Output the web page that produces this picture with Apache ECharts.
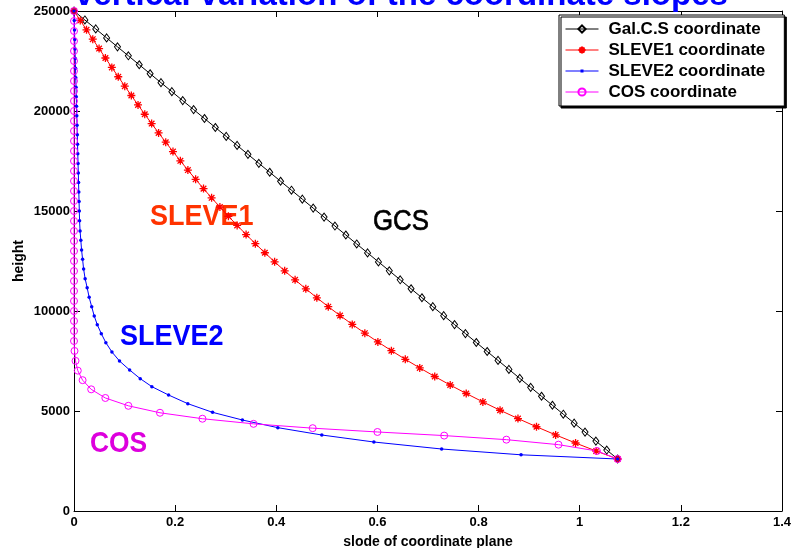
<!DOCTYPE html>
<html>
<head>
<meta charset="utf-8">
<script src="https://cdn.jsdelivr.net/npm/echarts/dist/echarts.min.js"></script>
<style>
  html, body { margin: 0; padding: 0; background: #fff; }
  #chart { width: 794px; height: 548px; }
</style>
</head>
<body>
<div id="chart"></div>
<script>
// slope of the coordinate surface over the peak vs. its height (bottom -> top)
const gcsSlope = [1.075, 1.0535, 1.032, 1.0105, 0.989, 0.9675, 0.946, 0.9245, 0.903, 0.8815, 0.86, 0.8385, 0.817, 0.7955, 0.774, 0.7525, 0.731, 0.7095, 0.688, 0.6665, 0.645, 0.6235, 0.602, 0.5805, 0.559, 0.5375, 0.516, 0.4945, 0.473, 0.4515, 0.43, 0.4085, 0.387, 0.3655, 0.344, 0.3225, 0.301, 0.2795, 0.258, 0.2365, 0.215, 0.1935, 0.172, 0.1505, 0.129, 0.1075, 0.086, 0.0645, 0.043, 0.0215, 0];
const gcsHeight = [2600, 3048, 3496, 3944, 4392, 4840, 5288, 5736, 6184, 6632, 7080, 7528, 7976, 8424, 8872, 9320, 9768, 10216, 10664, 11112, 11560, 12008, 12456, 12904, 13352, 13800, 14248, 14696, 15144, 15592, 16040, 16488, 16936, 17384, 17832, 18280, 18728, 19176, 19624, 20072, 20520, 20968, 21416, 21864, 22312, 22760, 23208, 23656, 24104, 24552, 25000];

const sleve1Slope = [1.075, 1.0326, 0.9918, 0.9524, 0.9145, 0.8779, 0.8425, 0.8085, 0.7756, 0.7439, 0.7133, 0.6837, 0.6551, 0.6276, 0.6009, 0.5751, 0.5502, 0.5261, 0.5028, 0.4802, 0.4584, 0.4372, 0.4166, 0.3967, 0.3774, 0.3586, 0.3403, 0.3226, 0.3053, 0.2885, 0.2721, 0.2561, 0.2405, 0.2252, 0.2103, 0.1957, 0.1814, 0.1673, 0.1535, 0.1399, 0.1266, 0.1134, 0.1004, 0.0875, 0.0748, 0.0621, 0.0496, 0.0371, 0.0247, 0.0124, 0];
const sleve1Height = [2600, 2998, 3399, 3804, 4212, 4623, 5038, 5455, 5876, 6299, 6725, 7154, 7585, 8018, 8453, 8891, 9331, 9773, 10216, 10661, 11109, 11557, 12008, 12459, 12913, 13367, 13823, 14280, 14738, 15198, 15658, 16119, 16582, 17045, 17509, 17973, 18439, 18905, 19371, 19838, 20306, 20774, 21243, 21712, 22181, 22650, 23120, 23590, 24060, 24530, 25000];

const sleve2Slope = [1.075, 0.884, 0.727, 0.593, 0.49, 0.403, 0.333, 0.274, 0.225, 0.187, 0.154, 0.131, 0.11, 0.09, 0.075, 0.063, 0.054, 0.046, 0.04, 0.035, 0.03, 0.026, 0.022, 0.019, 0.017, 0.015, 0.0135, 0.012, 0.011, 0.0105, 0.01, 0.0095, 0.009, 0.0085, 0.008, 0.0075, 0.007, 0.0065, 0.006, 0.0055, 0.005, 0.0045, 0.004, 0.0035, 0.003, 0.0025, 0.002, 0.0015, 0.001, 0.0005, 0];
const sleve2Height = [2600, 2810, 3100, 3450, 3800, 4167, 4550, 4933, 5367, 5800, 6217, 6617, 7050, 7500, 7950, 8417, 8867, 9317, 9750, 10217, 10683, 11167, 11617, 12100, 12583, 13050, 13533, 14000, 14517, 15000, 15476, 15952, 16429, 16905, 17381, 17857, 18333, 18810, 19286, 19762, 20238, 20714, 21190, 21667, 22143, 22619, 23095, 23571, 24048, 24524, 25000];

const cosSlope = [1.075, 1.034, 0.958, 0.855, 0.732, 0.6, 0.472, 0.355, 0.254, 0.17, 0.1075, 0.062, 0.034, 0.017, 0.0075, 0.003, 0.001, 0, 0, 0, 0, 0, 0, 0, 0, 0, 0, 0, 0, 0, 0, 0, 0, 0, 0, 0, 0, 0, 0, 0, 0, 0, 0, 0, 0, 0, 0, 0, 0, 0, 0];
const cosHeight = [2600, 3001, 3317, 3567, 3771, 3951, 4141, 4358, 4614, 4911, 5260, 5651, 6083, 6542, 7018, 7507, 8002, 8500, 9000, 9500, 10000, 10500, 11000, 11500, 12000, 12500, 13000, 13500, 14000, 14500, 15000, 15500, 16000, 16500, 17000, 17500, 18000, 18500, 19000, 19500, 20000, 20500, 21000, 21500, 22000, 22500, 23000, 23500, 24000, 24500, 25000];

const seriesNames = ['Gal.C.S coordinate', 'SLEVE1 coordinate', 'SLEVE2 coordinate', 'COS coordinate'];

const FONT = '"Liberation Sans", Arial, Helvetica, sans-serif';
const pairs = (xs, ys) => xs.map((x, i) => [x, ys[i]]);
const asterisk = 'path://M5,0L5,10M0,5L10,5M1.5,1.5L8.5,8.5M1.5,8.5L8.5,1.5';
// legend icon for the '.' marker: thin line with a tiny dot
const dotLineIcon = 'path://M0,4.5L33,4.5L33,5.5L0,5.5Z M15,3.5L18,3.5L18,6.5L15,6.5Z';

const chart = echarts.init(document.getElementById('chart'));

const tickStyle = { inside: true, length: 6, lineStyle: { color: '#000', width: 1 } };
const lineAxis = { onZero: false, lineStyle: { color: '#000', width: 1 } };
const labelStyle = { color: '#000', fontWeight: 'bold', fontSize: 13, fontFamily: FONT };
const plainNum = v => String(v);

const option = {
  backgroundColor: '#fff',
  animation: false,
  title: {
    text: 'vertical variation of the coordinate slopes',
    left: 75,
    top: -21,
    padding: 0,
    textStyle: { color: '#0000ff', fontSize: 33, fontWeight: 'bold', fontFamily: FONT }
  },
  grid: { left: 74, top: 11, width: 708, height: 500, show: false, outerBoundsMode: 'none', containLabel: false },
  legend: {
    orient: 'vertical',
    left: 559,
    top: 15,
    padding: [4, 19, 4, 6],
    itemGap: 1,
    itemWidth: 33,
    itemHeight: 9,
    backgroundColor: '#fff',
    borderColor: '#000',
    borderWidth: 1,
    shadowColor: '#000',
    shadowOffsetX: 2,
    shadowOffsetY: 2,
    shadowBlur: 0,
    lineStyle: { width: 1 },
    textStyle: { color: '#000', fontSize: 17, fontWeight: 'bold', fontFamily: FONT, lineHeight: 20, padding: [0, 0, 0, 5] },
    data: [
      seriesNames[0],
      seriesNames[1],
      { name: seriesNames[2], icon: dotLineIcon },
      seriesNames[3]
    ]
  },
  xAxis: [
    {
      type: 'value', min: 0, max: 1.4, interval: 0.2, position: 'bottom',
      axisLine: lineAxis, axisTick: tickStyle,
      axisLabel: Object.assign({ margin: 5, formatter: plainNum }, labelStyle),
      splitLine: { show: false },
      name: 'slode of coordinate plane', nameLocation: 'middle', nameGap: 24,
      nameTextStyle: { color: '#000', fontWeight: 'bold', fontSize: 14, fontFamily: FONT }
    },
    {
      type: 'value', min: 0, max: 1.4, interval: 0.2, position: 'top',
      axisLine: lineAxis, axisTick: tickStyle, axisLabel: { show: false }, splitLine: { show: false }
    }
  ],
  yAxis: [
    {
      type: 'value', min: 0, max: 25000, interval: 5000, position: 'left',
      axisLine: lineAxis, axisTick: tickStyle,
      axisLabel: Object.assign({ margin: 4, formatter: plainNum }, labelStyle),
      splitLine: { show: false },
      name: 'height', nameLocation: 'middle', nameGap: 48, nameRotate: 90, nameMoveOverlap: false,
      nameTextStyle: { color: '#000', fontWeight: 'bold', fontSize: 14, fontFamily: FONT }
    },
    {
      type: 'value', min: 0, max: 25000, interval: 5000, position: 'right',
      axisLine: lineAxis, axisTick: tickStyle, axisLabel: { show: false }, splitLine: { show: false }
    }
  ],
  series: [
    {
      name: seriesNames[0], type: 'line', clip: false,
      data: pairs(gcsSlope, gcsHeight),
      symbol: 'diamond', symbolSize: [6, 8],
      lineStyle: { color: '#000', width: 1 },
      itemStyle: { color: 'rgba(0,0,0,0)', borderColor: '#000', borderWidth: 1 }
    },
    {
      name: seriesNames[1], type: 'line', clip: false,
      data: pairs(sleve1Slope, sleve1Height),
      symbol: asterisk, symbolSize: 8,
      lineStyle: { color: '#ff0000', width: 1 },
      itemStyle: { color: '#ff0000', borderColor: '#ff0000', borderWidth: 1.3 }
    },
    {
      name: seriesNames[2], type: 'line', clip: false,
      data: pairs(sleve2Slope, sleve2Height),
      symbol: 'circle', symbolSize: 3.5,
      lineStyle: { color: '#0000ff', width: 1 },
      itemStyle: { color: '#0000ff', borderWidth: 0 }
    },
    {
      name: seriesNames[3], type: 'line', clip: false,
      data: pairs(cosSlope, cosHeight),
      symbol: 'circle', symbolSize: 7,
      lineStyle: { color: '#ff00ff', width: 1 },
      itemStyle: { color: 'rgba(0,0,0,0)', borderColor: '#ff00ff', borderWidth: 1 }
    }
  ],
  graphic: [
    { type: 'text', x: 150, y: 217, scaleX: 0.9, style: { text: 'SLEVE1', fill: '#ff3300', font: 'bold 30px ' + FONT, textVerticalAlign: 'middle' } },
    { type: 'text', x: 373, y: 222, scaleX: 0.86, style: { text: 'GCS', fill: '#000', stroke: '#000', lineWidth: 0.7, font: '30px ' + FONT, textVerticalAlign: 'middle' } },
    { type: 'text', x: 120, y: 337, scaleX: 0.9, style: { text: 'SLEVE2', fill: '#0000ff', font: 'bold 30px ' + FONT, textVerticalAlign: 'middle' } },
    { type: 'text', x: 90, y: 444, scaleX: 0.88, style: { text: 'COS', fill: '#dd00dd', font: 'bold 30px ' + FONT, textVerticalAlign: 'middle' } }
  ]
};

chart.setOption(option);
</script>
</body>
</html>
